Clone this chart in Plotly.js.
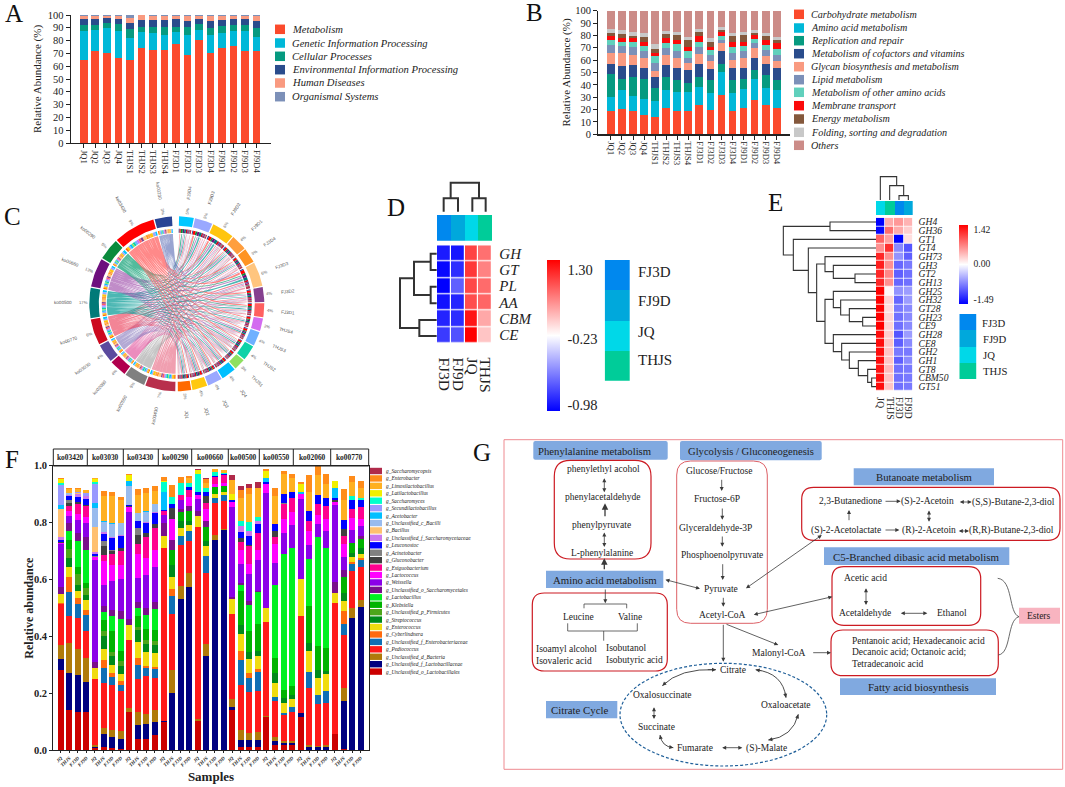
<!DOCTYPE html>
<html><head><meta charset="utf-8">
<script src="https://cdn.plot.ly/plotly-3.0.1.min.js"></script>
<style>html,body{margin:0;padding:0;background:#fff;overflow:hidden}</style>
</head><body><div id="chart" style="width:1065px;height:787px"></div>
<script>
// ---------- Panels A / B ----------
const sampleIds=["JQ1","JQ2","JQ3","JQ4","THJS1","THJS2","THJS3","THJS4","FJ3D1","FJ3D2","FJ3D3","FJ3D4","FJ9D1","FJ9D2","FJ9D3","FJ9D4"];
const aNames=["Metabolism","Genetic Information Processing","Cellular Processes","Environmental Information Processing","Human Diseases","Organismal Systems"];
const aColors=["#fb4a2c","#00b8d8","#069a80","#2a4c8c","#f99a80","#7c90b8"];
const aMetabolism=[65,72,70.5,66.5,65,74.5,73,73,77,68.5,80.5,70.5,74,76,72,71.5];
const aGenetic=[22.5,16,19.5,21,17,12,13,11,9.5,16,8,14,12,11.5,15.5,11.5];
const aCellular=[4.5,4,3.5,5.5,7,4,5,6.5,4.5,6,4.5,5.5,5.5,4.5,4.5,6.5];
const aEnvironmental=[5,5,4.5,4,5,5.5,5,5.5,6,5,4,5.5,4.5,5,5,6];
const aHuman=[2,2.5,1,2,4,3.8,3,3.5,2,3.5,2.5,4,3.5,2,2,4];
const aOrganismal=[1,.5,1,1,2,.2,1,.5,1,1,.5,.5,.5,1,1,.5];
const aSeries=[aMetabolism,aGenetic,aCellular,aEnvironmental,aHuman,aOrganismal];

const bNames=["Carbohydrate metabolism","Amino acid metabolism","Replication and repair","Metabolism of cofactors and vitamins","Glycan biosynthesis and metabolism","Lipid metabolism","Metabolism of other amino acids","Membrane transport","Energy metabolism","Folding, sorting and degradation","Others"];
const bColors=["#fb4a2c","#00b8d8","#069a80","#2a4c8c","#f99a80","#7c90b8","#60d0bc","#fb0a0a","#84583c","#c8c8c8","#cc8c88"];
const bCarb=[19,20.5,18.5,15.5,14,21.5,18.5,19,23.5,20,32,18.5,21.5,28,23.5,21.5];
const bAmino=[11.5,15,12.5,13,13,14.5,15.5,15.5,15,13.5,18.5,15,15.5,16.5,14,14];
const bRepl=[18.5,9.5,15,16.5,10.5,10,10,7,7.5,10.5,6,10.5,7.5,7.5,10.5,8.5];
const bCof=[8,10.5,10,9,8.5,10,9.5,10.5,10.5,9,10.5,10,9.5,10,9,9.5];
const bGlycan=[8.5,10,8,8,5.5,8,8.5,5.5,8.5,6,6.5,6.5,7.5,8,6.5,5.5];
const bLipid=[6.5,6,6.5,5,6,6,5.5,4.5,5.5,5.5,3,5,5.5,4,4.5,5];
const bOtherAA=[4,3,4.5,4.5,6,3.5,5.5,5.5,4.5,3.5,3,5.5,4.5,3.5,4.5,5];
const bMembrane=[3.5,3.5,3,3.5,2,4.5,3.5,3.5,4.5,3,3,4,3.5,2.5,3.5,4.5];
const bEnergy=[2.5,3,1.5,3.5,3.5,3.5,4,5,3.5,4,1.5,4.5,5,2,3.5,3];
const bFolding=[3,3,3,3.5,4,2,2.5,2.5,2,3,2.5,2.5,3,2,2.5,2.5];
const bOthers=[15,16,17.5,18,27,16.5,17,21.5,15,22,13.5,18,17,16,18,21];
const bSeries=[bCarb,bAmino,bRepl,bCof,bGlycan,bLipid,bOtherAA,bMembrane,bEnergy,bFolding,bOthers];

// ---------- Panel C ----------
const koLabels=["ko03430","ko00550","ko02060","ko03030","ko00770","ko00500","ko00660","ko00290","ko03420","ko00230"];
const koWeights=[21,14.5,12,13,18,21,20,15,29,12];
const koPct=["7%","5%","4%","4%","6%","17%","13%","5%","9%","3%"];
const koColors=["#b8304c","#808080","#b0004e","#5b4a9e","#cc0a1f","#007a78","#6d0f7e","#0a8a3c","#ff0000","#2a4494"];
const koRibbons=["rgba(232,110,135,.66)","rgba(165,165,165,.66)","rgba(224,80,155,.66)","rgba(140,125,190,.66)","rgba(236,70,95,.66)","rgba(20,160,155,.76)","rgba(160,80,172,.66)","rgba(30,165,125,.76)","rgba(255,100,100,.76)","rgba(110,125,190,.7)"];
const chordSamples=["FJ9D4","FJ9D3","FJ9D2","FJ9D1","FJ3D4","FJ3D3","FJ3D2","FJ3D1","THJS4","THJS3","THJS2","THJS1","JQ4","JQ3","JQ2","JQ1"];
const sampleWeights=[10.5,12.8,15.9,11.3,10.5,17.3,10.7,10,9.1,10.2,11,8.2,10.6,10.4,10.8,9.5];
const samplePct=["5%","5%","6%","4%","3%","6%","4%","4%","3%","4%","4%","3%","4%","4%","4%","3%"];
const sampleColors=["#00c8ff","#9aa8ff","#ffc50f","#ff9e3d","#ff9422","#ffc57e","#86408f","#ff6060","#d36bf0","#6fb0ff","#0dd2a8","#8ee060","#00bfff","#9aa8ff","#ffc80f","#ff6a00"];
const koLinks=[
[5,4,7,5,5,8,4,5,3,4,5,3,5,4,6,4],
[4,3,5,4,3,5,3,3,2,3,4,2,4,5,4,3],
[3,4,4,3,3,4,3,2,3,3,3,2,3,3,3,2],
[4,3,5,3,3,5,3,3,2,3,3,2,3,3,4,3],
[6,5,6,4,4,6,4,4,3,4,4,3,4,4,5,4],
[7,8,9,6,5,9,6,5,5,5,6,4,5,5,5,5],
[6,7,8,5,5,8,5,4,4,5,5,4,5,5,5,4],
[9,6,5,4,3,6,3,4,3,3,4,3,3,4,3,3],
[5,8,9,6,6,10,7,7,6,7,6,5,6,5,6,5],
[3,3,4,3,2,4,3,2,2,3,2,2,2,3,2,3]];

// ---------- Panel D ----------
const dRows=["GH","GT","PL","AA","CBM","CE"];
const dCols=["FJ3D","FJ9D","JQ","THJS"];
const dGH=[-.86,-.88,1.0,.8];
const dGT=[-.95,-.78,1.05,.72];
const dPL=[-.98,-.55,.98,.82];
const dAA=[-.9,-.82,.95,.85];
const dCBM=[-.82,-.78,1.2,.55];
const dCE=[-.72,-.62,1.3,.42];
const groupColors={FJ3D:"#0088ee",FJ9D:"#00a8dc",JQ:"#00d8e8",THJS:"#00cc99"};

// ---------- Panel E ----------
const eRows=["GH4","GH36","GT1","GT4","GH73","GH3","GT2","GH13","GH25","GH32","GT28","GH23","CE9","GH28","CE8","GH2","GH1","GT8","CBM50","GT51"];
const eCols=["JQ","THJS","FJ3D","FJ9D"];
const eJQ=[-1.49,-1.45,.85,.6,1.2,1.25,1.2,1.2,1.42,1.42,1.42,1.42,1.42,1.35,1.35,1.35,1.35,1.3,1.35,1.35];
const eTHJS=[.45,.8,.5,1.15,.6,.6,.65,.6,0,.2,.15,.2,.2,.25,.3,.3,.3,.35,.3,.3];
const eFJ3D=[.55,.45,-1.49,-.7,-.65,-.9,-.95,-.9,-.65,-.9,-.8,-.85,-.85,-1.0,-.95,-.8,-.95,-.85,-.85,-.85];
const eFJ9D=[.4,.25,.15,-1.0,-.95,-.8,-.85,-.85,-.6,-.6,-.7,-.7,-.7,-.6,-.7,-.8,-.7,-.8,-.8,-.8];

// ---------- Panel F ----------
const fGroups=["ko03420","ko03030","ko03430","ko00290","ko00660","ko00500","ko00550","ko02060","ko00770"];
const fSampleCycle=["JQ","THJS","FJ3D","FJ9D"];
const fNames=["g_Unclassified_o_Lactobacillales","g_Unclassified_f_Lactobacillaceae","g_Unclassified_d_Bacteria","g_Pediococcus","g_Unclassified_f_Enterobacteriaceae","g_Cyberlindnera","g_Enterococcus","g_Streptococcus","g_Unclassified_p_Firmicutes","g_Klebsiella","g_Lactobacillus","g_Unclassified_o_Saccharomycetales","g_Weissella","g_Lactococcus","g_Exiguobacterium","g_Gluconobacter","g_Acinetobacter","g_Leuconostoc","g_Unclassified_f_Saccharomycetaceae","g_Bacillus","g_Unclassified_c_Bacilli","g_Acetobacter","g_Secundilactobacillus","g_Saccharomyces","g_Latilactobacillus","g_Limosilactobacillus","g_Enterobacter","g_Saccharomycopsis"];
const fColors=["#cc0000","#000080","#b07a0a","#ff1a1a","#0f6fb5","#ff6a0d","#f0dc10","#008a1a","#4da61a","#00b300","#00f020","#7a0f8c","#8b00e8","#ff00ff","#ff0090","#404040","#808080","#0000ff","#cc77ee","#ffc070","#99bbee","#00bfff","#9999ff","#00ffcc","#f0f000","#ffb020","#ff8c1a","#b02a4a"];
const fOLact=[.28,.14,.135,.133,.008,.012,.006,.005,.132,.038,.04,.052,.1,0,0,0,.103,0,0,0,.14,.012,.012,.012,.115,.018,.016,.017,.115,0,0,0,.058,.002,0,0];
const fFLact=[.04,.13,.13,.105,.004,.045,.04,.033,0,.05,.05,.045,.003,.202,.53,.575,0,.33,.737,.773,.01,.022,.022,.022,.002,.015,.01,.008,.015,.012,.009,.01,0,.17,.465,.502];
const fDBact=[.05,.105,.09,.085,.004,.022,.026,.028,.016,.045,.036,.042,0,.08,.048,.047,.005,.043,.018,.005,.028,.036,.026,.03,.003,.012,.005,.006,.001,.006,.004,.006,0,.047,.033,.025];
const fPedio=[.145,.095,.108,.097,.232,.158,.155,.143,.24,.117,.133,.113,.607,.198,.142,.112,.677,.25,.113,.099,.302,.16,.145,.143,.33,.127,.092,.103,.34,.2,.149,.148,.458,.185,.133,.115];
const fFEntero=[0,.087,.05,.055,0,.05,.03,.02,0,.048,.028,.032,0,.06,.033,.036,0,.058,.02,.02,0,.085,.05,.067,0,.016,.008,.016,0,.055,.03,.043,0,.04,.022,.025];
const fCyber=[.003,.05,.022,.018,0,.03,.015,.012,0,.024,.01,.008,0,.027,0,0,0,0,0,0,0,.032,.015,.01,0,0,0,0,0,0,0,0,0,.045,.009,.007];
const fEnteroc=[.03,.035,.025,.033,.042,.04,.028,.028,.052,.057,.047,.048,.042,.043,.028,.022,.037,.035,.012,.01,.05,.062,.05,.048,.05,.047,.033,.03,.13,.075,.063,.06,.035,.035,.018,.017];
const fStrep=[0,.035,.02,.018,0,.045,.03,.028,0,.042,.03,.03,0,.04,.025,.015,0,.02,0,0,0,.032,.023,.018,0,.035,.018,.015,0,.03,.025,.012,0,.03,.014,.02];
const fPFirm=[0,.03,.04,.025,0,.015,.015,.015,0,.01,.012,.012,0,0,0,0,0,0,0,0,0,0,0,0,0,0,0,0,0,0,0,0,0,0,0,0];
const fKleb=[0,.03,.022,.018,0,.04,.075,.038,0,.04,.04,.04,0,.053,.03,.035,0,.05,.025,.02,0,.12,.075,.092,0,.055,.03,.03,0,.127,.085,.08,0,.055,.033,.03];
const fLacto=[0,.035,.092,.118,0,.028,.053,.11,0,.03,.05,.075,0,0,0,0,0,0,0,0,0,.018,.093,.113,0,.257,.477,.485,0,.168,.385,.35,0,0,0,0];
const fOSacc=[.025,.025,.03,.043,.018,.02,.02,.03,.022,.02,.022,.025,.048,.036,.012,.017,.02,.02,0,0,.008,.007,.012,.003,0,0,0,0,.002,0,0,0,.04,.025,.002,.012];
const fWeiss=[.15,.025,.045,.05,.36,.077,.102,.11,.375,.083,.117,.12,.027,0,.03,0,.04,0,0,0,.315,.067,.097,.11,.405,.076,.075,.083,.28,.047,.045,.06,.27,.045,.046,.035];
const fLactoc=[.005,.02,.02,.02,.012,.082,.055,.05,.016,.085,.06,.06,0,.072,0,.03,.015,.042,.01,.012,.018,.05,.036,.035,.03,.066,.05,.045,.018,.052,.03,.045,.012,.045,.042,.025];
const fExig=[0,.015,.037,.04,0,.022,.04,.05,0,.035,.075,.078,.012,0,.02,.025,0,.02,.025,.028,0,.03,.06,.06,0,.026,.053,.047,0,.032,.04,.043,0,.03,.029,.04];
const fGluco=[.005,.012,.005,.005,0,.03,.01,.012,.005,.032,.013,.015,0,.04,0,0,0,.027,0,0,0,.012,.004,.002,0,.02,0,0,0,0,0,0,.006,.025,0,0];
const fAcin=[0,.012,0,0,.003,.02,.005,0,0,.024,0,0,0,0,0,0,0,0,0,0,0,0,0,0,0,.002,.003,.003,0,0,0,0,0,0,0,0];
const fLeuc=[.005,.012,.018,.02,.008,.025,.04,.04,.005,.025,.037,.038,.005,.015,0,.012,.01,.012,.005,.005,.008,.023,.032,.029,.006,.023,.03,.02,0,.035,.033,.03,.006,.03,.035,.025];
const fFSacch=[.01,.005,.01,.012,.007,.005,.005,.003,0,0,.003,.003,0,0,0,0,0,0,0,0,0,.02,.02,.012,0,0,0,0,0,0,0,0,0,0,0,0];
const fBacillus=[.1,0,.005,0,.085,0,0,0,0,0,0,0,0,0,0,0,0,0,0,0,0,0,0,0,0,0,0,0,0,0,0,0,0,0,0,0];
const fCBacilli=[0,.005,0,0,.068,.035,.045,.045,.065,.028,.033,.028,0,0,0,0,0,0,0,0,0,0,0,0,0,0,0,0,0,0,0,0,0,0,0,0];
const fAcetob=[.015,0,0,0,.017,.004,.003,0,.018,0,.004,.003,.065,0,0,0,0,0,0,0,0,0,0,0,.016,0,0,0,.005,0,0,0,.035,0,0,0];
const fSecund=[.07,0,.005,.01,.068,0,0,0,0,0,0,0,0,0,0,0,0,0,0,0,0,0,0,0,0,0,0,0,0,0,0,0,0,0,0,0];
const fSaccharomyces=[.005,0,0,0,.005,0,0,0,0,0,0,0,.035,.025,.04,.012,.065,.013,.012,.004,0,.017,.03,.012,0,0,0,0,0,0,0,0,0,0,.014,.008];
const fLatila=[.015,0,0,0,.012,0,0,0,.02,0,0,0,.003,0,0,0,.012,0,0,0,.02,0,0,0,.026,0,0,0,.03,0,0,0,.025,0,0,0];
const fLimo=[0,.015,.01,.01,.005,.09,.097,.08,0,.065,.065,.045,0,0,0,.02,0,.018,.01,.008,.05,.08,.1,.105,0,.1,.07,.05,0,.07,.07,.05,0,.07,.047,.035];
const fEnterob=[.003,.003,.003,0,0,.015,.012,.01,.006,.02,.015,.018,.012,.04,.024,.005,0,.015,0,0,0,.03,.02,0,.004,.025,.012,.014,.006,.06,.03,.035,.002,.04,.021,.025];
const fSaccharomycopsis=[0,0,0,0,0,0,0,0,0,0,0,0,0,0,0,0,.004,.004,.001,.002,.02,.012,.015,.018,0,0,0,0,0,0,0,0,0,0,0,0];
const fSeries=[fOLact,fFLact,fDBact,fPedio,fFEntero,fCyber,fEnteroc,fStrep,fPFirm,fKleb,fLacto,fOSacc,fWeiss,fLactoc,fExig,fGluco,fAcin,fLeuc,fFSacch,fBacillus,fCBacilli,fAcetob,fSecund,fSaccharomyces,fLatila,fLimo,fEnterob,fSaccharomycopsis];

// ---------- layout helpers (pixel -> paper) ----------
const W=1065,H=787,FONT="Liberation Serif";
const px=x=>x/W, py=y=>1-y/H;
const xd=(a,b)=>[px(a),px(b)], yd=(a,b)=>[py(b),py(a)];
const shapes=[],ann=[],traces=[];
function T(text,x,y,size,o={}){ann.push(Object.assign({text,x:px(x),y:py(y),xref:'paper',yref:'paper',showarrow:false,xanchor:'center',yanchor:'middle',font:{family:FONT,size,color:o.color||'#222'}},o.extra||{}));}
function rect(x0,y0,x1,y1,fill,line,lw){shapes.push({type:'rect',xref:'paper',yref:'paper',x0:px(x0),x1:px(x1),y0:py(y0),y1:py(y1),fillcolor:fill||'rgba(0,0,0,0)',line:{color:line||'rgba(0,0,0,0)',width:lw||0},layer:'above'});}
function poly(pts,color,w,o={}){shapes.push(Object.assign({type:'path',xref:'paper',yref:'paper',path:'M'+pts.map(p=>px(p[0])+','+py(p[1])).join('L'),line:{color,width:w},layer:'above'},o));}
function rr(x0,y0,x1,y1,r,line,lw,fill){const c=(x,y)=>px(x)+','+py(y);
 shapes.push({type:'path',xref:'paper',yref:'paper',layer:'above',fillcolor:fill||'rgba(0,0,0,0)',line:{color:line||'rgba(0,0,0,0)',width:lw||0},
 path:`M${c(x0+r,y0)}L${c(x1-r,y0)}Q${c(x1,y0)} ${c(x1,y0+r)}L${c(x1,y1-r)}Q${c(x1,y1)} ${c(x1-r,y1)}L${c(x0+r,y1)}Q${c(x0,y1)} ${c(x0,y1-r)}L${c(x0,y0+r)}Q${c(x0,y0)} ${c(x0+r,y0)}Z`});}
function arrow(x0,y0,x1,y1,both,w){ann.push({text:'',x:px(x1),y:py(y1),xref:'paper',yref:'paper',ax:x0-x1,ay:y0-y1,axref:'pixel',ayref:'pixel',showarrow:true,arrowhead:2,arrowsize:1,startarrowhead:2,startarrowsize:1,arrowwidth:w||.8,arrowcolor:'#3a3a3a',arrowside:both?'end+start':'end'});}
function curve(p0,c,p1,both){const f=(a,b)=>px(a)+','+py(b);
 shapes.push({type:'path',xref:'paper',yref:'paper',layer:'above',line:{color:'#3a3a3a',width:.9},path:`M${f(p0[0],p0[1])}Q${f(c[0],c[1])} ${f(p1[0],p1[1])}`});
 const q=t=>[(1-t)*(1-t)*p0[0]+2*t*(1-t)*c[0]+t*t*p1[0],(1-t)*(1-t)*p0[1]+2*t*(1-t)*c[1]+t*t*p1[1]];
 let a=q(.86);arrow(a[0],a[1],p1[0],p1[1]);if(both){a=q(.14);arrow(a[0],a[1],p0[0],p0[1]);}}
function dendH(nodes,ox,oy,w){nodes.forEach(n=>poly([[n[2]/3+ox,n[1]/3+oy],[n[0]/3+ox,n[1]/3+oy],[n[0]/3+ox,n[3]/3+oy],[n[4]/3+ox,n[3]/3+oy]],'#333',w));}
function dendV(nodes,ox,oy,w){nodes.forEach(n=>poly([[n[1]/3+ox,n[2]/3+oy],[n[1]/3+ox,n[0]/3+oy],[n[3]/3+ox,n[0]/3+oy],[n[3]/3+ox,n[4]/3+oy]],'#333',w));}

// ---------- stacked bars ----------
function bars(series,names,colors,xa,ya,width){series.forEach((v,i)=>traces.push({type:'bar',x:v.map((_,j)=>j),y:v,name:names[i],width,marker:{color:colors[i],line:{width:0}},xaxis:xa,yaxis:ya,showlegend:false,hoverinfo:'skip'}));}
bars(aSeries,aNames,aColors,'x','y',.66);
bars(bSeries,bNames,bColors,'x2','y2',.7);
bars(fSeries,fNames,fColors,'x3','y3',.7);

function legendRows(names,colors,x0,x1,tx,ys,h,size){names.forEach((n,i)=>{rect(x0,ys[i]-h/2,x1,ys[i]+h/2,colors[i]);
 ann.push({text:'<i>'+n+'</i>',x:px(tx),y:py(ys[i]),xref:'paper',yref:'paper',showarrow:false,xanchor:'left',yanchor:'middle',font:{family:FONT,size,color:'#222'}});});}
legendRows(aNames,aColors,275,285,290,[29.3,43,56.3,69.7,83,96.7],9.5,10.6);
legendRows(bNames,bColors,794,804,809,[14.3,28,40.7,53.7,66.7,79.7,92.3,105.7,119,132.3,145.3],9.5,10.1);
const fRevNames=[...fNames].reverse(),fRevColors=[...fColors].reverse();
legendRows(fRevNames,fRevColors,370,382,384,fRevNames.map((_,i)=>471+i*7.43),6.4,5.4);

// ---------- chord (panel C), built from the weights and link table ----------
const CX=176.8,CY=303.8,CH=111;
const toXY=(r,a)=>[r*Math.sin(a*Math.PI/180),r*Math.cos(a*Math.PI/180)];
function arcPts(r,a0,a1){const n=Math.max(2,Math.ceil(Math.abs(a1-a0)/2)),p=[];for(let i=0;i<=n;i++)p.push(toXY(r,a0+(a1-a0)*i/n));return p;}
function addFill(store,pts){pts.forEach(p=>{store.x.push(p[0]);store.y.push(p[1]);});store.x.push(null);store.y.push(null);}
function band(r0,r1,a0,a1){return arcPts(r1,a0,a1).concat(arcPts(r0,a1,a0));}
function fillTrace(st,color){traces.push({type:'scatter',mode:'lines',x:st.x,y:st.y,fill:'toself',fillcolor:color,line:{width:0,color:color},xaxis:'x4',yaxis:'y4',showlegend:false,hoverinfo:'skip'});}
function spans(weights,start,end,gap){const tot=weights.reduce((a,b)=>a+b,0),n=weights.length,avail=end-start-gap*(n-1);let a=start;return weights.map(w=>{const s=[a,a+avail*w/tot];a=s[1]+gap;return s;});}
const sSpans=spans(sampleWeights,1.5,179.3,.8),kSpans=spans(koWeights,181,356.8,.9);
const koSub=koLinks.map((row,i)=>{const tot=row.reduce((a,b)=>a+b,0);let a=kSpans[i][0];const d=(kSpans[i][1]-kSpans[i][0])/tot;const out=[];for(let j=row.length-1;j>=0;j--){out[j]=[a,a+d*row[j]];a+=d*row[j];}return out;});
const sSub=sampleWeights.map((_,j)=>{const tot=koLinks.reduce((s,r)=>s+r[j],0);let a=sSpans[j][0];const d=(sSpans[j][1]-sSpans[j][0])/tot;const out=[];for(let i=koLinks.length-1;i>=0;i--){out[i]=[a,a+d*koLinks[i][j]];a+=d*koLinks[i][j];}return out;});
const RR=70,CTRL=.32;
function bez(p0,p1){const c0=[p0[0]*CTRL,p0[1]*CTRL],c1=[p1[0]*CTRL,p1[1]*CTRL],out=[];for(let k=0;k<=20;k++){const t=k/20,u=1-t;out.push([u*u*u*p0[0]+3*u*u*t*c0[0]+3*u*t*t*c1[0]+t*t*t*p1[0],u*u*u*p0[1]+3*u*u*t*c0[1]+3*u*t*t*c1[1]+t*t*t*p1[1]]);}return out;}
const shrink=(s,k)=>{const m=(s[0]+s[1])/2,h=(s[1]-s[0])/2*k;return [m-h,m+h];};
koLinks.forEach((row,i)=>{const st={x:[],y:[]};row.forEach((_,j)=>{const [a0,a1]=shrink(koSub[i][j],.97),[b0,b1]=shrink(sSub[j][i],.68);
 const A=arcPts(RR,a0,a1),B=arcPts(RR,b0,b1);
 addFill(st,A.concat(bez(A[A.length-1],B[0]),B,bez(B[B.length-1],A[0])));});fillTrace(st,koRibbons[i]);});
koColors.forEach((c,i)=>{const st={x:[],y:[]};addFill(st,band(78,87.5,kSpans[i][0],kSpans[i][1]));fillTrace(st,c);});
sampleColors.forEach((c,i)=>{const st={x:[],y:[]};addFill(st,band(78,87.5,sSpans[i][0],sSpans[i][1]));fillTrace(st,c);});
sampleColors.forEach((c,j)=>{const st={x:[],y:[]};koLinks.forEach((_,i)=>addFill(st,band(71,75,koSub[i][j][0],koSub[i][j][1])));fillTrace(st,c);});
koColors.forEach((c,i)=>{const st={x:[],y:[]};sampleColors.forEach((_,j)=>addFill(st,band(71,75,sSub[j][i][0],sSub[j][i][1])));fillTrace(st,c);});
function radialLabel(text,a,r,size,color){const rad=a*Math.PI/180;const ang=a<180?a-90:a+90-360;
 ann.push({text,x:px(CX+r*Math.sin(rad)),y:py(CY-r*Math.cos(rad)),xref:'paper',yref:'paper',xanchor:'center',yanchor:'middle',showarrow:false,textangle:ang,font:{family:'Liberation Sans',size,color}});}
chordSamples.forEach((s,i)=>{const m=(sSpans[i][0]+sSpans[i][1])/2;radialLabel(s,m,112,4.6,'#555');radialLabel(samplePct[i],m,93,4.2,'#666');});
koLabels.forEach((s,i)=>{const m=(kSpans[i][0]+kSpans[i][1])/2;radialLabel(s,m,114,4.6,'#555');radialLabel(koPct[i],m,93,4.2,'#666');});

// ---------- heatmaps ----------
const bwr=[[0,'#0000ff'],[.5,'#ffffff'],[1,'#ff0000']];
function disc(cols){const n=cols.length,o=[];cols.forEach((c,i)=>{o.push([i/n,c]);o.push([(i+1)/n,c]);});return o;}
const dZ=[dGH,dGT,dPL,dAA,dCBM,dCE];
traces.push({type:'heatmap',x:dCols,y:dRows,z:dZ,xaxis:'x5',yaxis:'y5',xgap:1.2,ygap:1.2,colorscale:bwr,zmin:-.98,zmax:1.30,hoverinfo:'skip',
 colorbar:{x:px(547.3),xanchor:'left',y:py(410.7),yanchor:'bottom',lenmode:'pixels',len:151.4,thicknessmode:'pixels',thickness:12.7,xpad:0,ypad:0,outlinewidth:0,
  tickmode:'array',tickvals:[1.149,.11,-.896],ticktext:['1.30','-0.23','-0.98'],ticks:'outside',ticklen:5,tickcolor:'rgba(0,0,0,0)',tickfont:{family:FONT,size:14.5,color:'#222'}}});
traces.push({type:'heatmap',x:dCols,y:['g'],z:[[0,1,2,3]],xaxis:'x6',yaxis:'y6',colorscale:disc(dCols.map(k=>groupColors[k])),zmin:-.5,zmax:3.5,showscale:false,hoverinfo:'skip'});
const legOrder=["FJ3D","FJ9D","JQ","THJS"];
traces.push({type:'heatmap',x:['k'],y:legOrder,z:legOrder.map((_,i)=>[i]),xaxis:'x7',yaxis:'y7',colorscale:disc(legOrder.map(k=>groupColors[k])),zmin:-.5,zmax:3.5,showscale:false,hoverinfo:'skip'});
legOrder.forEach((k,i)=>T(k,636,[271.7,301,331.7,360][i],15,{extra:{xanchor:'left'}}));

const eZ=eRows.map((_,i)=>[eJQ[i],eTHJS[i],eFJ3D[i],eFJ9D[i]]);
traces.push({type:'heatmap',x:eCols,y:eRows,z:eZ,xaxis:'x8',yaxis:'y8',xgap:.8,ygap:.8,colorscale:bwr,zmin:-1.49,zmax:1.42,zmid:0,hoverinfo:'skip',
 colorbar:{x:px(959.3),xanchor:'left',y:py(304.3),yanchor:'bottom',lenmode:'pixels',len:79.3,thicknessmode:'pixels',thickness:9,xpad:0,ypad:0,outlinewidth:0,
  tickmode:'array',tickvals:[1.25,0,-1.3],ticktext:['1.42','0.00','-1.49'],ticks:'outside',ticklen:4,tickcolor:'rgba(0,0,0,0)',tickfont:{family:FONT,size:9.7,color:'#222'}}});
traces.push({type:'heatmap',x:eCols,y:['g'],z:[[0,1,2,3]],xaxis:'x9',yaxis:'y9',colorscale:disc(eCols.map(k=>groupColors[k])),zmin:-.5,zmax:3.5,showscale:false,hoverinfo:'skip'});
traces.push({type:'heatmap',x:['k'],y:legOrder,z:legOrder.map((_,i)=>[i]),xaxis:'x10',yaxis:'y10',colorscale:disc(legOrder.map(k=>groupColors[k])),zmin:-.5,zmax:3.5,showscale:false,hoverinfo:'skip'});
legOrder.forEach((k,i)=>T(k,[980,981,981,981][i],[322.7,339,355,371][i],10.7,{extra:{xanchor:'left'}}));

// dendrograms
dendH([[272,251,290,300,290],[272,350,290,400,290],[222,275,272,375,272],[238,450,290,498,290],[180,325,222,474,238]],340,170,2);
dendV([[85,311,125,354,125],[85,397,125,437,125],[38,332,85,417,85]],340,170,2);
dendH([[330,171,468,197,468],[428,457,468,483,468],[388,431,468,470,428],[362,405,468,450,388],[340,379,468,428,362],[455,639,468,665,468],[443,613,468,652,455],[415,587,468,632,443],[388,561,468,610,415],[365,535,468,585,388],[340,509,468,560,365],[315,403,340,535,340],[405,327,468,353,468],[340,301,468,340,405],[315,275,468,320,340],[290,297,315,469,315],[265,249,468,383,290],[220,223,468,316,265],[190,184,330,270,220]],720,165,1.1);
dendV([[92,537,105,565,105],[62,509,105,551,92],[35,481,105,530,62]],720,165,1.1);

// ---------- panel F strip ----------
const stripEdges=[53.3,87.3,123.3,158.3,191.7,228.3,259.3,293.3,330.7,368.7];
rect(53.3,449,368.7,466,null,'#222',1);
stripEdges.slice(1,-1).forEach(x=>poly([[x,449],[x,466]],'#222',1));
fGroups.forEach((g,i)=>T('<b>'+g+'</b>',(stripEdges[i]+stripEdges[i+1])/2,457.5,7.4));
ann.push({text:'<b>Relative abundance</b>',x:px(29),y:py(607.7),xref:'paper',yref:'paper',xanchor:'center',yanchor:'middle',showarrow:false,textangle:-90,font:{family:FONT,size:12,color:'#222'}});

// ---------- panel letters ----------
[['A',3,14],['B',524,13],['C',2,217],['D',385,207],['E',766,202],['F',3,459],['G',471,452]].forEach(l=>T(l[0],l[1],l[2],25,{color:'#111',extra:{xanchor:'left'}}));

// ---------- panel G pathway ----------
rect(504,439.7,1062.7,769.3,null,'#ee8a90',1);
const BL='#80a9e0';
rr(533.3,441,667.7,459.7,2,null,0,BL);rr(680,441,821.7,460.3,2,null,0,BL);
rect(546,570.7,663.3,588,BL);rect(546,701,617.3,718.3,BL);rect(853.7,468.3,994,485.3,BL);rect(824,547.3,1009.3,565,BL);rect(840,678.3,996,695,BL);rect(1019,607.7,1060,623.7,'#f8b4c0');
const RD='#cc1a22';
rr(554.3,460.3,651,559,16,RD,1.2);rr(532.3,593,667.3,671,12,RD,1.2);rr(676.7,461,767.3,623.3,14,'#dd6066',1);
rr(801.7,487.3,1060,540.3,12,RD,1.2);rr(832,566.7,980.7,625.3,12,RD,1.2);rr(831,630,998.3,675.7,12,RD,1.2);
shapes.push({type:'circle',xref:'paper',yref:'paper',x0:px(620),x1:px(826.7),y0:py(663.3),y1:py(766),line:{color:'#1f5f99',width:1.2,dash:'3px,2px'},layer:'above'});
[['Phenylalanine metabolism',595.3,450.7,10.7],['Glycolysis / Gluconeogenesis',750.5,451,10.6],['Amino acid metabolism',605,579.5,10.8],['Citrate Cycle',579,710,10.8],['Butanoate metabolism',924,477,10.7],['C5-Branched dibasic acid metabolism',916.5,556.5,10.9],['Fatty acid biosynthesis',918,687,11],['Esters',1039.3,615.7,9.5],
 ['phenylethyl acohol',603,469,9.5],['phenylacetaldehyde',602,497,9.5],['phenylpyruvate',601.7,524.7,9.5],['L-phenylalanine',602,553.3,9.5],
 ['Glucose/Fructose',719.3,470.7,9.5],['Fructose-6P',716.7,499.3,9.5],['Glyceraldehyde-3P',715,528,9.5],['Phosphoenolpyruvate',722.3,555.3,9.5],['Pyruvate',721,588.7,9.5],['Acetyl-CoA',722.3,615.3,9.5],
 ['Leucine',578.7,617,9.5],['Valine',630.3,617,9.5],['Isoamyl alcohol',566.7,648.7,9.5],['Isovaleric acid',564,660.7,9.5],['Isobutanol',625.7,648.3,9.5],['Isobutyric acid',634,660,9.5],
 ['Citrate',733,669.7,9.5],['Oxalosuccinate',662.3,694.7,9.5],['Succinate',656.7,726.7,9.5],['Fumarate',695,748,9.5],['(S)-Malate',766.7,748,9.5],['Oxaloacetate',786,705,9.5],['Malonyl-CoA',778,653.3,9.5],
 ['2,3-Butanedione',850.7,501.3,9.5],['(S)-2-Acetoin',927.7,501.3,9.5],['(S,S)-Butane-2,3-diol',1013.7,502,9.5],['(S)-2-Acetolactate',846.3,530,9.5],['(R)-2-Acetoin',928.7,530,9.5],['(R,R)-Butane-2,3-diol',1011.7,530,9.5],
 ['Acetic acid',865.3,578.3,9.5],['Acetaldehyde',865.3,613.3,9.5],['Ethanol',952,613.3,9.5]
].forEach(t=>T(t[0],t[1],t[2],t[3]));
[['Pentanoic acid; Hexadecanoic acid',640.7],['Decanoic acid; Octanoic acid;',652],['Tetradecanoic acid',663.7]].forEach(t=>T(t[0],850,t[1],9.5,{extra:{xanchor:'left'}}));
arrow(604.3,476.7,604.3,492.3,true);arrow(605,517.7,605,503.3,false,1.3);arrow(604.3,531,604.3,547,true);arrow(604.3,570.7,604.3,558.3,false,1.3);arrow(605.3,588,605.3,603.3);
poly([[584,608.3],[584,604],[626.7,604],[626.7,608.3]],'#444',.8);poly([[567.7,623.3],[567.7,631],[637.3,631],[637.3,623.3]],'#444',.8);poly([[603.7,631],[603.7,640.7]],'#444',.8);
arrow(721.7,478.3,721.7,491);arrow(722.3,507,722.3,519.7);arrow(722.3,535,722.3,546.7);arrow(722.7,562.7,722.7,580);arrow(723.3,596.3,723.3,606.7);
arrow(664,579.3,700,588.7,true);arrow(823.3,534,746,588.3,true);arrow(752.3,615,832.3,596.7,true);arrow(723.3,623.3,723.3,661.7);arrow(725,623.7,778.3,645);arrow(811.7,652.7,831,652.7);
arrow(884,501.3,900.7,501.3);arrow(958.3,502,971.7,502,true);arrow(849,521.7,849,510);arrow(929,509,929,521.7,true);arrow(884,530,899.3,530);arrow(957.3,531,969,531,true);
arrow(866,586.7,866,605,true);arrow(899.3,613.3,927.3,613.3,true);arrow(654,705.7,654,719,true);arrow(720.7,747.7,742.3,747.7,true);
curve([716,669.7],[680,668],[662.3,685.7],true);curve([755.7,669.7],[783,673],[786,697.7],true);curve([798.3,714.3],[793,737],[768.3,740],true);curve([660,735],[661.7,746.7],[673.3,747.7],true);
const bz=(a,b,c,d)=>`M${px(a[0])},${py(a[1])}C${px(b[0])},${py(b[1])} ${px(c[0])},${py(c[1])} ${px(d[0])},${py(d[1])}`;
shapes.push({type:'path',xref:'paper',yref:'paper',layer:'above',line:{color:'#444',width:.8},path:bz([997.7,578.3],[1013.3,580],[1008.3,613.3],[1019,616.7])});
shapes.push({type:'path',xref:'paper',yref:'paper',layer:'above',line:{color:'#444',width:.8},path:bz([998.3,655],[1011.7,653.3],[1006.7,620],[1019,616.7])});

// ---------- axes ----------
const f=(s,c)=>({family:FONT,size:s,color:c||'#222'});
const hidden={visible:false,fixedrange:true};
function barX(dom,yaxis,labels,rng,size,angle){return {domain:dom,anchor:yaxis,range:rng,tickmode:'array',tickvals:labels.map((_,i)=>i),ticktext:labels,tickangle:angle,tickfont:f(size),ticks:'outside',ticklen:4,tickwidth:1,tickcolor:'#222',showline:true,linecolor:'#222',linewidth:1.2,showgrid:false,zeroline:false};}
const fLabels=fGroups.flatMap(()=>fSampleCycle.map(s=>'<b><i>'+s+'</i></b>'));
const layout={width:W,height:H,margin:{l:0,r:0,t:0,b:0},paper_bgcolor:'#fff',plot_bgcolor:'rgba(0,0,0,0)',barmode:'stack',bargap:.3,showlegend:false,font:{family:FONT,color:'#222'},shapes,annotations:ann,
 xaxis:barX(xd(70.7,270.7),'y',sampleIds,[-1.13,16.22],8.6,90),
 yaxis:{domain:yd(15,143),anchor:'x',range:[0,100],tickvals:[0,10,20,30,40,50,60,70,80,90,100],tickfont:f(10.5),ticks:'outside',ticklen:4,tickcolor:'#222',showline:true,linecolor:'#222',linewidth:1.2,showgrid:false,zeroline:false,title:{text:'Relative Abundance (%)',font:f(11),standoff:3}},
 xaxis2:barX(xd(598.3,790),'y2',sampleIds,[-1.14,16.2],8.6,90),
 yaxis2:{domain:yd(10.7,134.3),anchor:'x2',range:[0,100],tickvals:[0,10,20,30,40,50,60,70,80,90,100],tickfont:f(10.5),ticks:'outside',ticklen:4,tickcolor:'#222',showline:true,linecolor:'#222',linewidth:1.2,showgrid:false,zeroline:false,title:{text:'Relative Abundance (%)',font:f(11),standoff:2}},
 xaxis3:Object.assign(barX(xd(53.3,368.7),'y3',fLabels,[-.863,35.94],5,-45),{mirror:true,ticklen:2,title:{text:'<b>Samples</b>',font:f(13),standoff:5}}),
 yaxis3:{domain:yd(465.7,750),anchor:'x3',range:[0,1],tickvals:[0,.2,.4,.6,.8,1],ticktext:['0.0','0.2','0.4','0.6','0.8','1.0'].map(s=>'<b>'+s+'</b>'),tickfont:f(10.5),ticks:'outside',ticklen:3,tickcolor:'#222',showline:true,mirror:true,linecolor:'#222',linewidth:1.2,showgrid:false,zeroline:false},
 xaxis4:Object.assign({domain:xd(CX-CH,CX+CH),anchor:'y4',range:[-CH,CH]},hidden),
 yaxis4:Object.assign({domain:yd(CY-CH,CY+CH),anchor:'x4',range:[-CH,CH]},hidden),
 xaxis5:{domain:xd(437,492.3),anchor:'y5',tickmode:'array',tickvals:dCols,ticktext:dCols,tickangle:90,tickfont:f(15.5),ticks:'outside',ticklen:10,tickcolor:'rgba(0,0,0,0)',showgrid:false,zeroline:false,showline:false},
 yaxis5:{domain:yd(245.3,343.3),anchor:'x5',side:'right',autorange:'reversed',tickmode:'array',tickvals:dRows,ticktext:dRows,tickfont:{family:FONT,size:15,color:'#222',style:'italic'},ticks:'outside',ticklen:3,tickcolor:'rgba(0,0,0,0)',showgrid:false,zeroline:false,showline:false},
 xaxis6:Object.assign({domain:xd(437,492.3),anchor:'y6'},hidden),yaxis6:Object.assign({domain:yd(215,240.7),anchor:'x6'},hidden),
 xaxis7:Object.assign({domain:xd(604.7,630),anchor:'y7'},hidden),yaxis7:Object.assign({domain:yd(260,380.7),anchor:'x7',autorange:'reversed'},hidden),
 xaxis8:{domain:xd(876,912.7),anchor:'y8',tickmode:'array',tickvals:eCols,ticktext:eCols,tickangle:90,tickfont:f(10),ticks:'outside',ticklen:3,tickcolor:'rgba(0,0,0,0)',showgrid:false,zeroline:false,showline:false},
 yaxis8:{domain:yd(217.7,391),anchor:'x8',side:'right',autorange:'reversed',tickmode:'array',tickvals:eRows,ticktext:eRows,tickfont:{family:FONT,size:9.6,color:'#222',style:'italic'},ticks:'outside',ticklen:3,tickcolor:'rgba(0,0,0,0)',showgrid:false,zeroline:false,showline:false},
 xaxis9:Object.assign({domain:xd(876,912.7),anchor:'y9'},hidden),yaxis9:Object.assign({domain:yd(201,215),anchor:'x9'},hidden),
 xaxis10:Object.assign({domain:xd(959.3,976.7),anchor:'y10'},hidden),yaxis10:Object.assign({domain:yd(314,379),anchor:'x10',autorange:'reversed'},hidden)
};
Plotly.newPlot('chart',traces,layout,{displayModeBar:false,staticPlot:true});
</script></body></html>
